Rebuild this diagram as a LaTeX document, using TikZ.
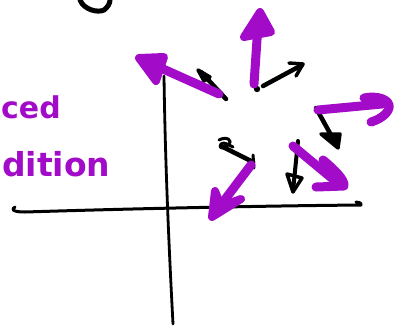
\documentclass[tikz,border=0pt]{standalone}
\usepackage{fontspec}
\newfontfamily\hand{DejaVu Sans}
\definecolor{pur}{HTML}{A20CC8}
\tikzset{
  pline/.style={draw=pur, line width=9pt, line cap=round, line join=round},
  phead/.style={draw=pur, fill=pur, line width=8pt, line cap=round, line join=round},
  bline/.style={draw=black, line width=4.5pt, line cap=round, line join=round},
  bhead/.style={draw=black, fill=black, line width=3.5pt, line cap=round, line join=round},
  axis/.style={draw=black, line width=3pt, line cap=round, line join=round},
  handtext/.style={text=pur, font=\hand\bfseries, inner sep=0pt}
}
\begin{document}
\begin{tikzpicture}[x=1pt,y=-1pt]
\useasboundingbox (0,0) rectangle (396,325);
% top black curve
\draw[bline, line width=5pt] (80,0) .. controls (84,10) and (98,13) .. (104,10) .. controls (108,7) and (110,3) .. (110,0);
% axes
\coordinate (hl) at (13,210);
\coordinate (hr) at (361,205);
\coordinate (vt) at (164,76);
\coordinate (vb) at (173,324);
\draw[axis] (15,207) .. controls (11,209) and (12,212) .. (25,212)
  .. controls (120,209) and (250,206) .. (hr) .. controls (362,203) and (358,202) .. (356,202);
\draw[axis, line width=2.8pt] (vt) .. controls (165,150) and (168,230) .. (vb);
% text
\node[handtext, font=\hand\bfseries\fontsize{30}{30}\selectfont, anchor=base west] (t1) at (1,118) {ced};
\node[handtext, font=\hand\bfseries\fontsize{33}{33}\selectfont, anchor=base west] (t2) at (2,176) {dition};
% black arrows
\coordinate (a1s) at (226,99); \coordinate (a1e) at (201,72);
\draw[bline] (a1s) -- (a1e);
\draw[bhead] (198,70) -- (210,77) -- (204,81) -- cycle;
\coordinate (a2s) at (263,86); \coordinate (a2e) at (302,65);
\draw[bline] (a2s) -- (a2e);
\draw[bline, line width=3.5pt] (289,63) -- (303,64) -- (296,76);
\coordinate (a3s) at (316,108); \coordinate (a3e) at (336,144);
\draw[bline] (a3s) -- (a3e);
\draw[bhead] (321,134) -- (340,134) -- (338,148) -- cycle;
\coordinate (a4s) at (298,141); \coordinate (a4e) at (293,191);
\draw[bline, line width=4pt] (a4s) -- (a4e);
\draw[bline, line width=3.5pt] (287,174) -- (293,192) -- (302,178) -- cycle;
\coordinate (a5s) at (253,162); \coordinate (a5e) at (223,147);
\draw[bline] (a5s) -- (a5e);
\draw[bline, line width=3pt] (253,155) -- (254,168);
\draw[bline, line width=3pt] (219,140) .. controls (226,136) and (234,140) .. (228,145) .. controls (223,150) and (218,148) .. (221,144) .. controls (224,141) and (230,146) .. (233,147);
\fill (257,89) circle (3.2pt);
% purple arrows
\coordinate (p1s) at (219,94); \coordinate (p1e) at (152,64);
\draw[pline] (p1s) -- (p1e);
\draw[phead] (139,58) -- (164,57) -- (156,81) -- cycle;
\coordinate (p2s) at (254,84); \coordinate (p2e) at (258,25);
\draw[pline] (p2s) -- (p2e);
\draw[phead] (260,12) -- (244,37) -- (271,32) -- cycle;
\coordinate (p3s) at (318,110); \coordinate (p3e) at (382,104);
\draw[pline] (p3s) -- (p3e);
\draw[pline] (364,98) .. controls (378,95) and (391,100) .. (389,108) .. controls (387,115) and (378,120) .. (371,122);
\coordinate (p4s) at (293,146); \coordinate (p4e) at (340,185);
\draw[pline] (p4s) -- (p4e);
\draw[pline] (323,160) .. controls (335,170) and (345,180) .. (344,186) -- (316,187);
\coordinate (p5s) at (251,165); \coordinate (p5e) at (214,214);
\draw[pline] (p5s) -- (p5e);
\draw[phead] (215,191) -- (221,206) -- (241,199) -- (212,217) -- cycle;
\end{tikzpicture}
\end{document}
